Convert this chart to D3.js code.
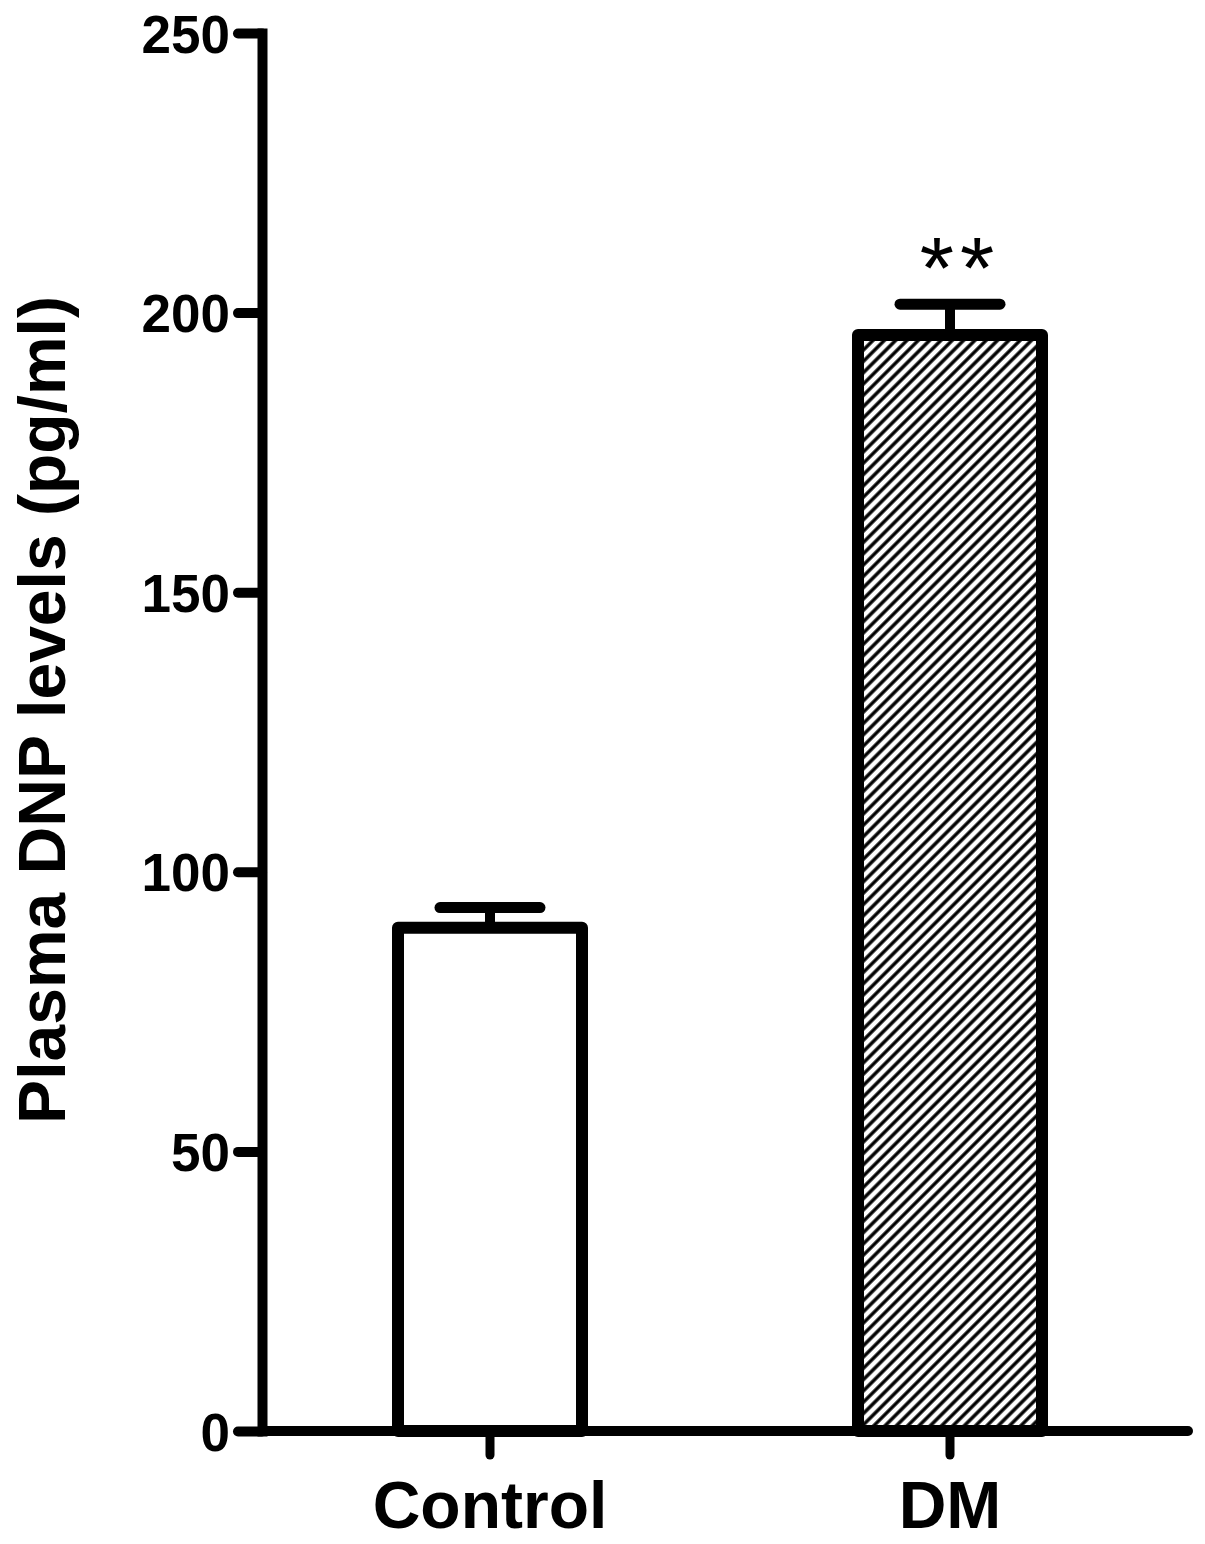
<!DOCTYPE html>
<html>
<head>
<meta charset="utf-8">
<script src="https://cdn.jsdelivr.net/npm/d3@7"></script>
<style>
  html, body { margin: 0; padding: 0; background: #fff; }
  svg { display: block; }
</style>
</head>
<body>
<svg id="chart" width="1205" height="1544"></svg>
<script>
const categories = ["Control", "DM"];
const means = [90, 196];
const sems = [3.6, 5.5];
const significance = ["", "**"];
const yTicks = [0, 50, 100, 150, 200, 250];
const yLabel = "Plasma DNP levels (pg/ml)";

const svg = d3.select("#chart");
const font = "'Liberation Sans', Arial, Helvetica, sans-serif";

const defs = svg.append("defs");
const pat = defs.append("pattern")
  .attr("id", "hatch")
  .attr("patternUnits", "userSpaceOnUse")
  .attr("width", 8).attr("height", 8)
  .attr("patternTransform", "rotate(45)");
pat.append("rect").attr("width", 8).attr("height", 8).attr("fill", "#fff");
pat.append("line").attr("x1", 2).attr("y1", 0).attr("x2", 2).attr("y2", 8)
  .attr("stroke", "#000").attr("stroke-width", 3.4);

const y = d3.scaleLinear().domain([0, 250]).range([1431, 33]);
const x = d3.scaleBand().domain(categories).range([260, 1180]).paddingInner(0.6).paddingOuter(0.3);
const axisX0 = 262;

const data = categories.map((c, i) => ({ c, m: means[i], s: sems[i], sig: significance[i], i }));
const g = svg.append("g");

// error bars (behind bars)
g.selectAll(".err").data(data).enter().append("line")
  .attr("x1", d => x(d.c) + x.bandwidth() / 2)
  .attr("x2", d => x(d.c) + x.bandwidth() / 2)
  .attr("y1", d => y(d.m))
  .attr("y2", d => y(d.m + d.s))
  .attr("stroke", "#000").attr("stroke-width", 10);
g.selectAll(".cap").data(data).enter().append("line")
  .attr("x1", d => x(d.c) + x.bandwidth() / 2 - 50)
  .attr("x2", d => x(d.c) + x.bandwidth() / 2 + 50)
  .attr("y1", d => y(d.m + d.s))
  .attr("y2", d => y(d.m + d.s))
  .attr("stroke", "#000").attr("stroke-width", 11).attr("stroke-linecap", "round");

g.selectAll(".bar").data(data).enter().append("rect")
  .attr("x", d => x(d.c))
  .attr("width", x.bandwidth())
  .attr("y", d => y(d.m))
  .attr("height", d => y(0) - y(d.m))
  .attr("fill", d => d.i === 0 ? "#fff" : "url(#hatch)")
  .attr("stroke", "#000").attr("stroke-width", 12).attr("stroke-linejoin", "round");

g.selectAll(".sig").data(data).enter().append("text")
  .attr("x", d => x(d.c) + x.bandwidth() / 2 + 10)
  .attr("y", d => y(d.m + d.s) - 6)
  .attr("text-anchor", "middle")
  .attr("font-family", font).attr("font-size", 88)
  .attr("letter-spacing", 6)
  .attr("fill", "#000")
  .text(d => d.sig);

// Y axis
const yAxis = svg.append("g").attr("transform", `translate(${axisX0},0)`)
  .call(d3.axisLeft(y).tickValues(yTicks).tickSize(24).tickSizeOuter(0).tickPadding(8).tickFormat(d3.format("d")));
yAxis.select(".domain").attr("stroke", "#000").attr("stroke-width", 10).attr("stroke-linecap", "square");
yAxis.selectAll(".tick line").attr("stroke", "#000").attr("stroke-width", 10).attr("stroke-linecap", "round");
yAxis.selectAll(".tick text")
  .attr("font-family", font).attr("font-weight", "bold").attr("font-size", 53)
  .attr("fill", "#000").attr("dy", "0.36em");

// X axis
svg.append("line")
  .attr("x1", axisX0).attr("x2", 1188)
  .attr("y1", y(0)).attr("y2", y(0))
  .attr("stroke", "#000").attr("stroke-width", 10).attr("stroke-linecap", "round");
const xAxis = svg.append("g").attr("transform", `translate(0,${y(0)})`)
  .call(d3.axisBottom(x).tickSize(24).tickSizeOuter(0).tickPadding(26));
xAxis.select(".domain").remove();
xAxis.selectAll(".tick line").attr("stroke", "#000").attr("stroke-width", 9).attr("stroke-linecap", "round");
xAxis.selectAll(".tick text")
  .attr("font-family", font).attr("font-weight", "bold").attr("font-size", 66)
  .attr("fill", "#000").attr("dy", "0.71em");

// Y label
svg.append("text")
  .attr("transform", `translate(65,710) rotate(-90)`)
  .attr("text-anchor", "middle")
  .attr("font-family", font).attr("font-weight", "bold").attr("font-size", 66)
  .attr("fill", "#000")
  .text(yLabel);
</script>
</body>
</html>
